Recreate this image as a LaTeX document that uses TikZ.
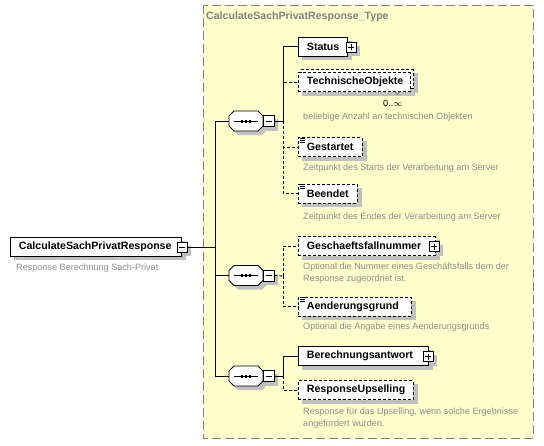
\documentclass[tikz,border=0pt]{standalone}
\usepackage{fontspec}
\setmainfont{Liberation Sans}
\pgfdeclarelayer{bg}
\pgfdeclarelayer{shadowl}
\pgfsetlayers{bg,shadowl,main}
\definecolor{ybg}{RGB}{255,255,204}
\definecolor{shdc}{RGB}{192,192,192}
\definecolor{descc}{RGB}{140,140,140}
\definecolor{ttlc}{RGB}{128,128,128}
\begin{document}
\begin{tikzpicture}[x=1pt,y=-1pt,
  elem/.style={draw=black, line width=0.9pt, fill=white, anchor=west, minimum height=19pt,
    inner xsep=8.5pt, inner ysep=0pt, align=left, font=\bfseries\fontsize{10.6}{12}\selectfont},
  opt/.style={elem, dash pattern=on 3pt off 2pt},
  pm/.style={draw=black, fill=white, line width=0.9pt, minimum size=10pt, inner sep=0pt},
  seq/.style={draw=none, minimum width=34pt, minimum height=20pt, inner sep=0pt},
  descr/.style={anchor=west, inner sep=0pt, text=descc, font=\fontsize{9.1}{12}\selectfont, align=left},
  conn/.style={draw=black, line width=0.9pt},
  dconn/.style={conn, dash pattern=on 3pt off 2pt},
  sign/.style={draw=black, line width=0.9pt},
  shd/.style={fill=shdc}]
\useasboundingbox (0,0) rectangle (544,445);
\begin{pgfonlayer}{bg}
\fill[white] (0,0) rectangle (544,445);
\draw[draw=ttlc, dash pattern=on 9pt off 4pt, fill=ybg, line width=0.9pt] (203,5) rectangle (533,438);
\end{pgfonlayer}

% title
\node[anchor=west, inner sep=0pt, text=ttlc, font=\bfseries\fontsize{10.6}{12}\selectfont] (title) at (206,17) {CalculateSachPrivatResponse\_Type};

% coordinates for connectors
\coordinate (t1) at (215,121);
\coordinate (t3) at (215,376);
\coordinate (b1) at (283,121);
\coordinate (b2) at (283,276);
\coordinate (b3) at (283,376);

% root
\node[elem, text width=154pt] (root) at (10,246.5) {CalculateSachPrivatResponse};
\node[pm] (rm) at (182,247) {};
\node[descr] (d0) at (16,268) {Response Berechnung Sach-Privat};

% compositors
\node[seq] (s1) at (246,121) {};
\node[seq] (s2) at (246,275.5) {};
\node[seq] (s3) at (246,376) {};

% connectors
\draw[conn] (s1.west) -- (t1) -- (t3) -- (s3.west);
\draw[conn] (rm.east) -- (rm.east -| t1);
\draw[conn] (s2.west) -- (s2.west -| t1);

% octagon outlines and sequence symbol
\foreach \s in {s1,s2,s3} {
  \fill[shdc] ([shift={(4,4)}]\s.center) ++(-17,-5) -- ++(5,-5) -- ++(24,0) -- ++(5,5) -- ++(0,10) -- ++(-5,5) -- ++(-24,0) -- ++(-5,-5) -- cycle;
  \draw[line width=0.9pt, fill=white, line join=round] (\s.center) ++(-17,-5) -- ++(5,-5) -- ++(24,0) -- ++(5,5) -- ++(0,10) -- ++(-5,5) -- ++(-24,0) -- ++(-5,-5) -- cycle;
  \draw[line width=0.9pt] ([xshift=-12pt]\s.center) -- ([xshift=12pt]\s.center);
  \foreach \dx in {-4,0,4}
    \fill ([xshift=\dx pt]\s.center) +(-1.3,-1.5) rectangle +(1.3,1.5);
}

\node[pm, minimum size=11pt] (m1) at (268.5,121) {};
\node[pm, minimum size=11pt] (m2) at (268.5,275.5) {};
\node[pm, minimum size=11pt] (m3) at (268.5,376) {};
\draw[conn] (m1.east) -- (b1);
\draw[dconn] (m2.east) -- (b2);
\draw[conn] (m3.east) -- (b3);

% group 1
\node[elem, text width=32pt] (status) at (298,46.5) {Status};
\node[pm] (sp) at (351,47) {};
\node[opt, text width=95pt] (techb) at (301,79) {};
\node[opt, text width=95pt] (techn) at (298,82) {TechnischeObjekte};
\node[anchor=west, inner sep=0pt, font=\fontsize{9.1}{11}\selectfont] (mult) at (383,103) {0..$\infty$};
\node[descr] (d1) at (303,117) {beliebige Anzahl an technischen Objekten};
\node[opt, text width=47pt] (gest) at (298,147) {Gestartet};
\node[descr] (d2) at (303,168) {Zeitpunkt des Starts der Verarbeitung am Server};
\node[opt, text width=42pt] (beend) at (298,193.5) {Beendet};
\node[descr] (d3) at (303,217) {Zeitpunkt des Endes der Verarbeitung am Server};

\draw[conn] (b1) |- (status.west);
\draw[dconn] (b1) |- (techn.west);
\draw[dconn] (b1) |- (gest.west);
\draw[dconn] (b1) |- (beend.west);

% group 2
\node[opt, text width=120pt] (gesch) at (298,246) {Geschaeftsfallnummer};
\node[pm] (gp) at (434,246.5) {};
\node[descr] (d4) at (303,273.5) {Optional die Nummer eines Geschäftsfalls dem der\\Response zugeordnet ist.};
\node[opt, text width=96pt] (aender) at (298,306.5) {Aenderungsgrund};
\node[descr] (d5) at (303,327.5) {Optional die Angabe eines Aenderungsgrunds};
\draw[dconn] (b2) |- (gesch.west);
\draw[dconn] (b2) |- (aender.west);

% group 3
\node[elem, text width=113pt] (berech) at (298,356) {Berechnungsantwort};
\node[pm] (bp) at (428,356.5) {};
\node[opt, text width=98pt] (resp) at (298,390) {ResponseUpselling};
\node[descr] (d6) at (303,418) {Response für das Upselling, wenn solche Ergebnisse\\angefordert wurden.};
\draw[conn] (b3) |- (berech.west);
\draw[dconn] (b3) |- (resp.west);

% plus / minus signs
\foreach \n in {rm,m1,m2,m3,sp,gp,bp}
  \draw[sign] ([xshift=-3pt]\n.center) -- ([xshift=3pt]\n.center);
\foreach \n in {sp,gp,bp}
  \draw[sign] ([yshift=-3pt]\n.center) -- ([yshift=3pt]\n.center);

% annotation icons
\foreach \n in {gest,beend,aender}
  \foreach \dy in {1,3,5}
    \draw[line width=0.7pt] ([xshift=2pt,yshift=-\dy pt]\n.north west) -- ++(4.5,0);

% multiplicity notch
\draw[line width=0.6pt, black!55] (395,91.5) -- (397.5,94.5) -- (400,91.5);

% shadows
\begin{pgfonlayer}{shadowl}
\foreach \n in {root,rm,status,sp,techb,techn,gest,beend,gesch,gp,aender,berech,bp,resp,m1,m2,m3}
  \fill[shd] ([shift={(4,4)}]\n.north west) rectangle ([shift={(4,4)}]\n.south east);
\end{pgfonlayer}
\end{tikzpicture}
\end{document}
